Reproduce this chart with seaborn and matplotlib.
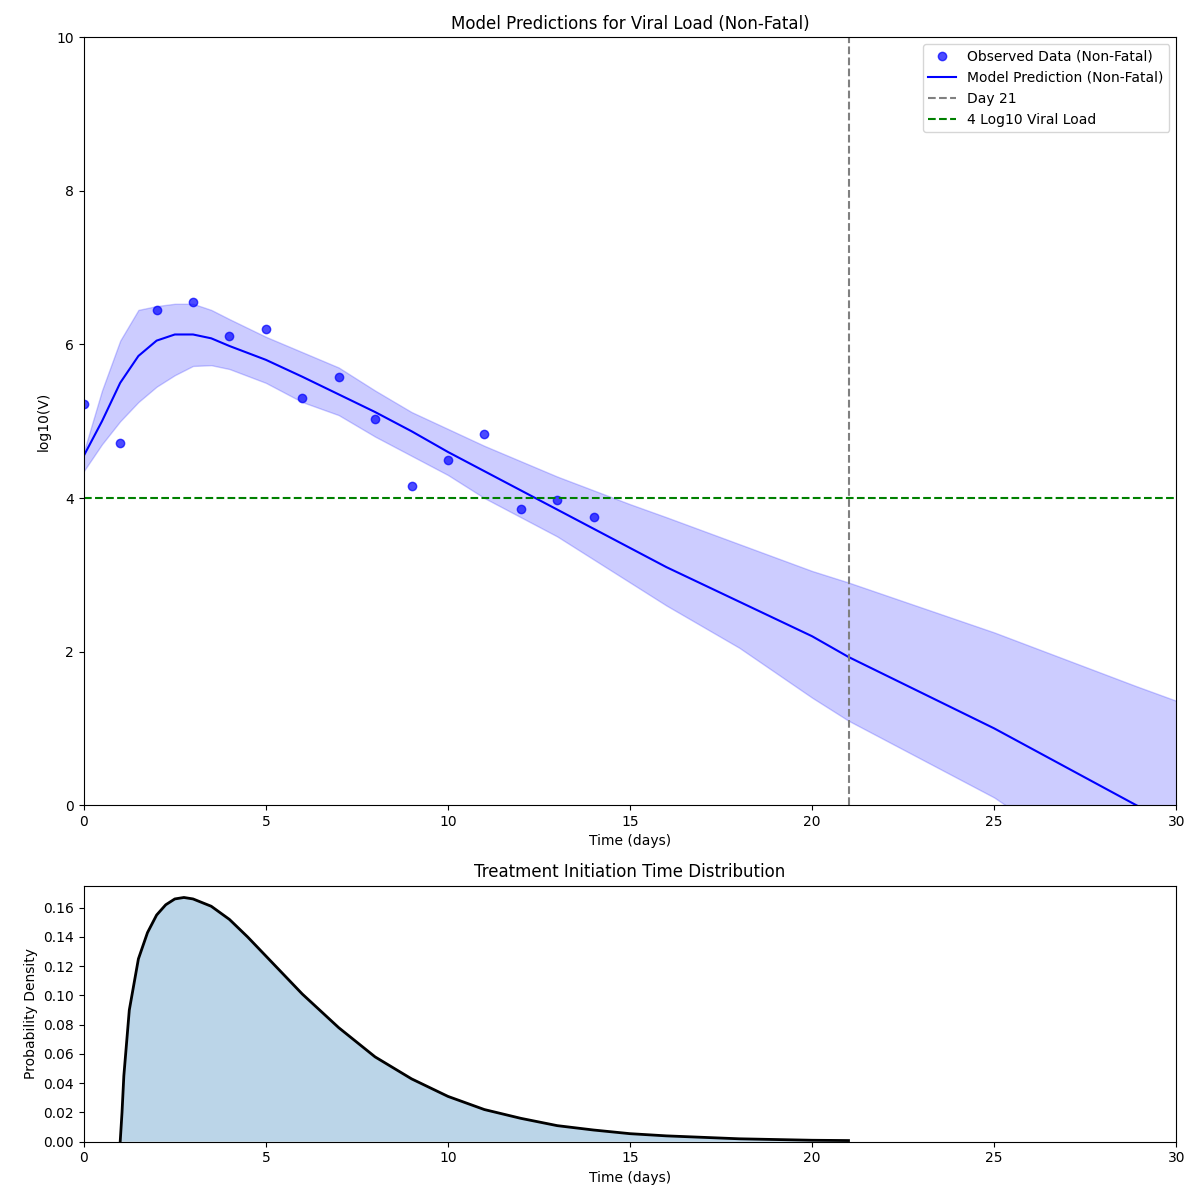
import matplotlib
matplotlib.use("Agg")
import matplotlib.pyplot as plt
import seaborn as sns
import pandas as pd

# observed data
obs_days = list(range(15))
obs_logv = [5.22, 4.72, 6.45, 6.55, 6.11, 6.20, 5.30, 5.57, 5.03, 4.16, 4.50, 4.84, 3.86, 3.98, 3.75]

# model prediction and band
model_t = [0, 0.5, 1, 1.5, 2, 2.5, 3, 3.5, 4, 5, 6, 7, 8, 9, 10, 11, 12, 13, 14, 15, 16, 18, 20, 21, 25, 28.9, 30]
model_mid = [4.55, 5.0, 5.5, 5.85, 6.05, 6.13, 6.13, 6.08, 5.98, 5.8, 5.58, 5.35, 5.12, 4.87, 4.6, 4.35, 4.1,
             3.85, 3.6, 3.35, 3.1, 2.65, 2.2, 1.93, 1.0, 0.0, -0.27]
model_hi = [4.6, 5.4, 6.05, 6.45, 6.5, 6.53, 6.53, 6.45, 6.33, 6.1, 5.9, 5.7, 5.4, 5.12, 4.9, 4.68, 4.48,
            4.28, 4.1, 3.92, 3.75, 3.4, 3.05, 2.9, 2.25, 1.55, 1.36]
model_lo = [4.35, 4.7, 5.0, 5.25, 5.45, 5.6, 5.72, 5.73, 5.68, 5.5, 5.25, 5.08, 4.8, 4.55, 4.3, 4.0, 3.75,
            3.5, 3.2, 2.9, 2.6, 2.05, 1.4, 1.1, 0.1, -1.15, -1.5]

# treatment initiation density
pdf_t = [1.0, 1.05, 1.1, 1.25, 1.5, 1.75, 2.0, 2.25, 2.5, 2.75, 3.0, 3.5, 4, 4.5, 5, 6, 7, 8, 9, 10, 11, 12, 13,
         14, 15, 16, 17, 18, 19, 20, 21]
pdf_v = [0.0, 0.02, 0.045, 0.09, 0.125, 0.143, 0.155, 0.162, 0.166, 0.167, 0.166, 0.161, 0.152, 0.14, 0.127,
         0.101, 0.078, 0.058, 0.043, 0.031, 0.022, 0.016, 0.011, 0.008, 0.0055, 0.004, 0.003, 0.002, 0.0015,
         0.001, 0.0008]

obs = pd.DataFrame({"t": obs_days, "v": obs_logv})
model = pd.DataFrame({"t": model_t, "v": model_mid})
dens = pd.DataFrame({"t": pdf_t, "p": pdf_v})

fig, (ax1, ax2) = plt.subplots(2, 1, figsize=(12, 12), dpi=100, gridspec_kw={"height_ratios": [3, 1]})

ax1.plot(obs["t"], obs["v"], "o", color="blue", alpha=0.7, label="Observed Data (Non-Fatal)")
sns.lineplot(data=model, x="t", y="v", color="blue", ax=ax1, label="Model Prediction (Non-Fatal)")
ax1.fill_between(model_t, model_lo, model_hi, color="blue", alpha=0.2)
ax1.axvline(21, color="gray", linestyle="--", label="Day 21")
ax1.axhline(4, color="green", linestyle="--", label="4 Log10 Viral Load")
ax1.set_xlim(0, 30)
ax1.set_ylim(0, 10)
ax1.set_xlabel("Time (days)")
ax1.set_ylabel("log10(V)")
ax1.set_title("Model Predictions for Viral Load (Non-Fatal)")
ax1.legend(loc="upper right")

sns.lineplot(data=dens, x="t", y="p", color="black", linewidth=2, ax=ax2)
ax2.fill_between(pdf_t, 0, pdf_v, alpha=0.3)
ax2.set_xlim(0, 30)
ax2.set_ylim(0, 0.175)
ax2.set_xlabel("Time (days)")
ax2.set_ylabel("Probability Density")
ax2.set_title("Treatment Initiation Time Distribution")

plt.tight_layout()
plt.savefig("out.png")
